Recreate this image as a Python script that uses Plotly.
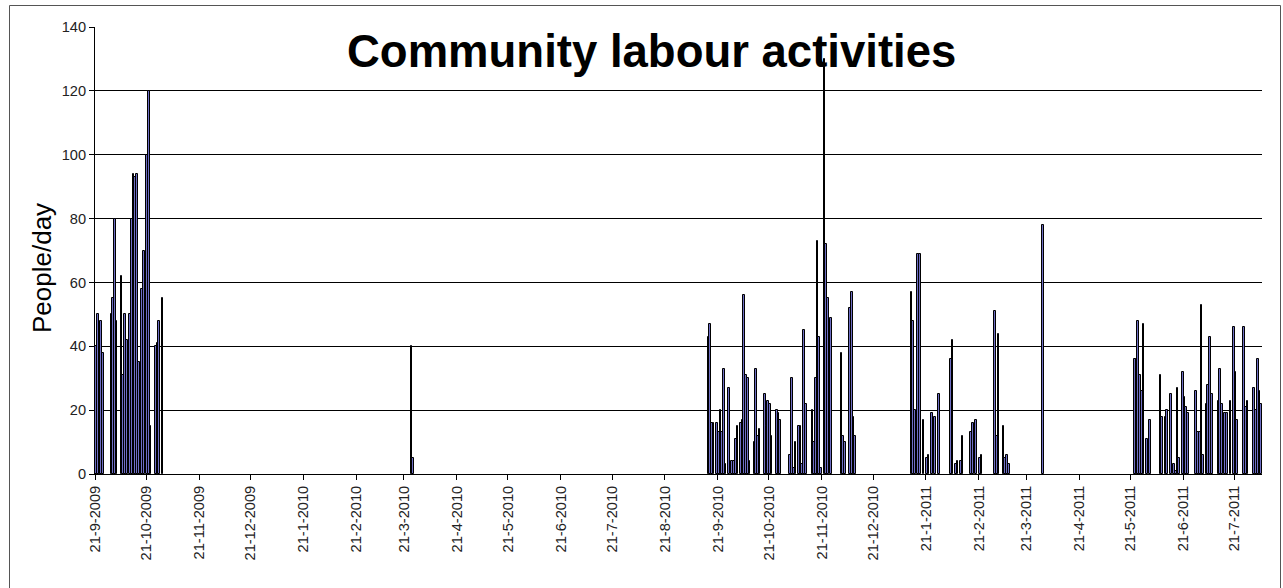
import plotly.graph_objects as go
import pandas as pd

# ---- data ----
dates = [
    # Sep-Oct 2009
    "2009-09-21", "2009-09-22", "2009-09-23", "2009-09-24", "2009-09-25",
    "2009-09-30", "2009-10-01", "2009-10-02", "2009-10-03",
    "2009-10-06", "2009-10-07", "2009-10-08", "2009-10-09",
    "2009-10-11", "2009-10-12", "2009-10-13", "2009-10-14", "2009-10-15",
    "2009-10-16", "2009-10-17", "2009-10-18", "2009-10-19",
    "2009-10-21", "2009-10-22", "2009-10-23",
    "2009-10-26", "2009-10-27", "2009-10-28", "2009-10-30",
    # Mar 2010
    "2010-03-25", "2010-03-26",
    # Sep-Dec 2010
    "2010-09-15", "2010-09-16", "2010-09-17", "2010-09-18", "2010-09-20",
    "2010-09-21", "2010-09-22", "2010-09-23", "2010-09-24", "2010-09-25",
    "2010-09-27", "2010-09-29", "2010-09-30", "2010-10-01", "2010-10-02",
    "2010-10-04", "2010-10-05", "2010-10-06", "2010-10-07", "2010-10-08",
    "2010-10-09", "2010-10-12", "2010-10-13", "2010-10-14", "2010-10-15",
    "2010-10-18", "2010-10-19", "2010-10-20", "2010-10-21", "2010-10-22",
    "2010-10-25", "2010-10-26", "2010-10-27",
    "2010-11-02", "2010-11-03", "2010-11-04", "2010-11-05",
    "2010-11-07", "2010-11-08", "2010-11-09", "2010-11-10", "2010-11-11",
    "2010-11-15", "2010-11-16", "2010-11-17", "2010-11-18", "2010-11-19",
    "2010-11-20", "2010-11-22", "2010-11-23", "2010-11-24", "2010-11-26",
    "2010-12-02", "2010-12-03", "2010-12-04",
    "2010-12-07", "2010-12-08", "2010-12-09", "2010-12-10",
    # Jan-Mar 2011
    "2011-01-12", "2011-01-13", "2011-01-14", "2011-01-16", "2011-01-17",
    "2011-01-19", "2011-01-21", "2011-01-22", "2011-01-24", "2011-01-26",
    "2011-01-28",
    "2011-02-04", "2011-02-05", "2011-02-07", "2011-02-08", "2011-02-10",
    "2011-02-11", "2011-02-16", "2011-02-17", "2011-02-19", "2011-02-21",
    "2011-02-22",
    "2011-03-02", "2011-03-03", "2011-03-04", "2011-03-07", "2011-03-08",
    "2011-03-09", "2011-03-10", "2011-03-30",
    # May-Aug 2011
    "2011-05-23", "2011-05-24", "2011-05-25", "2011-05-26", "2011-05-27",
    "2011-05-28", "2011-05-30", "2011-06-01",
    "2011-06-07", "2011-06-08", "2011-06-10", "2011-06-11", "2011-06-13",
    "2011-06-15", "2011-06-16", "2011-06-17", "2011-06-18", "2011-06-20",
    "2011-06-21", "2011-06-22", "2011-06-23", "2011-06-28", "2011-06-29",
    "2011-06-30",
    "2011-07-01", "2011-07-02", "2011-07-04", "2011-07-05", "2011-07-06",
    "2011-07-07", "2011-07-11", "2011-07-12", "2011-07-13", "2011-07-15",
    "2011-07-16", "2011-07-18", "2011-07-20", "2011-07-21", "2011-07-22",
    "2011-07-26", "2011-07-27", "2011-07-28",
    "2011-08-01", "2011-08-02", "2011-08-03", "2011-08-04", "2011-08-05",
]

people_per_day = [
    # Sep-Oct 2009
    40, 50, 40, 48, 38,
    50, 55, 80, 48,
    62, 31, 50, 42,
    50, 80, 94, 93, 94,
    35, 30, 58, 70,
    100, 120, 15,
    40, 41, 48, 55,
    # Mar 2010
    40, 5,
    # Sep-Dec 2010
    43, 47, 16, 16, 16,
    13, 20, 13, 33, 3,
    27, 4, 4, 11, 15,
    16, 17, 56, 31, 30,
    4, 10, 33, 12, 14,
    25, 15, 23, 22, 12,
    20, 19, 17,
    6, 30, 2, 10,
    15, 15, 3, 45, 22,
    20, 10, 30, 73, 43,
    2, 130, 72, 55, 49,
    38, 12, 10,
    52, 57, 18, 12,
    # Jan-Mar 2011
    57, 48, 20, 69, 69,
    17, 5, 6, 19, 18,
    25,
    36, 42, 3, 4, 4,
    12, 13, 16, 17, 5,
    6,
    51, 12, 44, 15, 5,
    6, 3, 78,
    # May-Aug 2011
    36, 36, 48, 31, 26,
    47, 11, 17,
    31, 18, 18, 20, 25,
    3, 1, 27, 5, 32,
    24, 21, 19, 26, 13,
    13,
    53, 6, 22, 28, 43,
    25, 23, 33, 22, 19,
    19, 23, 46, 32, 17,
    46, 21, 23,
    27, 20, 36, 26, 22,
]

tick_dates = pd.date_range("2009-09-01", "2011-07-01", freq="MS") + pd.Timedelta(days=20)
tick_labels = [f"{d.day}-{d.month}-{d.year}" for d in tick_dates]

title_text = "Community labour activities"
y_title = "People/day"

# ---- figure ----
W, H = 1283, 588
ML, MR, MT, MB = 95, 21, 27, 114
PW, PH = W - ML - MR, H - MT - MB

def px_x(x):
    return (x - ML) / PW

def px_y(y):
    return (H - MB - y) / PH

one_day = 24 * 3600 * 1000

fig = go.Figure()
fig.add_trace(go.Bar(
    x=pd.to_datetime(dates),
    y=people_per_day,
    width=one_day,
    offset=0,
    marker=dict(color="#6E6EC4", line=dict(color="#000000", width=1)),
    showlegend=False,
))

font_family = "Liberation Sans, Arial, sans-serif"

fig.update_layout(
    width=W, height=H,
    margin=dict(l=ML, r=MR, t=MT, b=MB, pad=0),
    paper_bgcolor="white",
    plot_bgcolor="white",
    font=dict(family=font_family, color="#222222"),
    bargap=0,
    xaxis=dict(
        type="date",
        range=["2009-09-20 22:00", "2011-08-06"],
        tickmode="array",
        tickvals=list(tick_dates),
        ticktext=tick_labels,
        tickangle=-90,
        ticks="outside",
        ticklen=5,
        tickcolor="#000000",
        tickfont=dict(size=14.6, family=font_family, color="#222222"),
        showline=True,
        linecolor="#000000",
        linewidth=1,
        showgrid=False,
        zeroline=False,
    ),
    yaxis=dict(
        range=[0, 140],
        tick0=0,
        dtick=20,
        ticks="outside",
        ticklen=5,
        tickcolor="#000000",
        tickfont=dict(size=14.6, family=font_family, color="#222222"),
        showline=True,
        linecolor="#000000",
        linewidth=1,
        showgrid=True,
        gridcolor="#000000",
        gridwidth=1,
        zeroline=False,
    ),
    annotations=[
        dict(
            text=f"<b>{title_text}</b>",
            xref="paper", yref="paper",
            x=px_x(651), y=px_y(52),
            xanchor="center", yanchor="middle",
            showarrow=False,
            font=dict(size=45.5, family=font_family, color="#000000"),
        ),
        dict(
            text=y_title,
            xref="paper", yref="paper",
            x=px_x(42), y=px_y(268),
            xanchor="center", yanchor="middle",
            textangle=-90,
            showarrow=False,
            font=dict(size=26, family=font_family, color="#000000"),
        ),
    ],
    shapes=[
        dict(
            type="rect", xref="paper", yref="paper",
            x0=px_x(9.5), x1=px_x(1280.5),
            y0=px_y(H + 20), y1=px_y(5.5),
            line=dict(color="#555555", width=1),
            fillcolor="rgba(0,0,0,0)",
            layer="below",
        )
    ],
)

fig.write_html(
    "out.html",
    config={"displayModeBar": False},
    post_script="document.body.style.margin='0px';document.body.style.overflow='hidden';",
)
